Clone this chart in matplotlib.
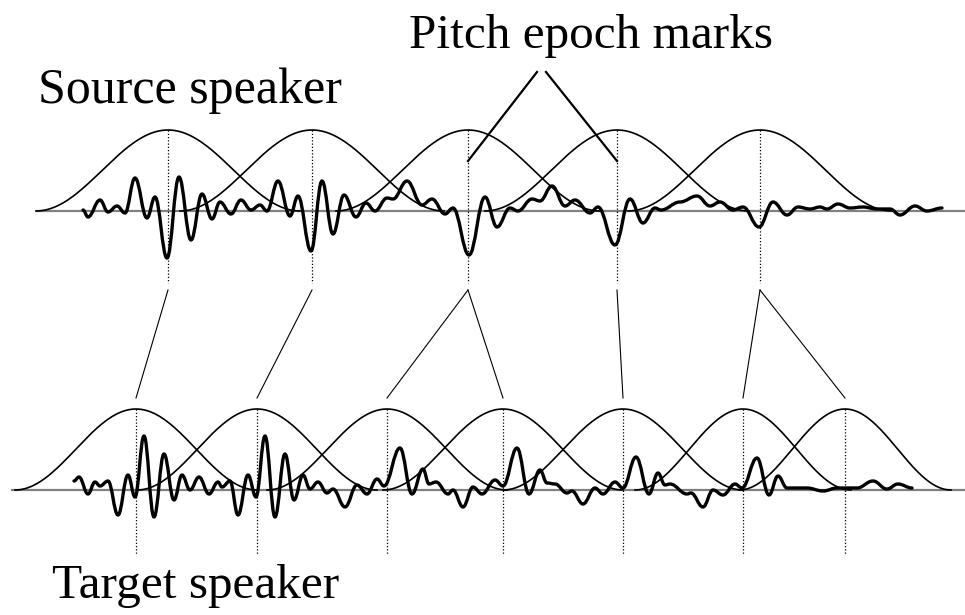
import numpy as np
import matplotlib
matplotlib.use("Agg")
import matplotlib.pyplot as plt
from matplotlib.path import Path
from matplotlib.patches import PathPatch

# source speech segment: extrema of the waveform (time, amplitude)
src_t = [83, 88, 100, 108, 117, 125, 135, 147, 155, 167, 179, 191, 202, 212, 220, 231, 241, 251,
         260, 267, 278, 290, 298, 311, 322, 333, 344, 356, 366, 375, 387, 393, 407, 422, 432, 445,
         453, 469, 485, 497, 510, 518, 532, 540, 552, 565, 575, 590, 598, 615, 630, 643, 655, 661,
         680, 697, 710, 720, 733, 743, 759, 773, 787, 798, 810, 820, 827, 838, 850, 863, 877, 890,
         900, 915, 927, 942]
src_amp = [1, -6, 11, -1, 5, -2, 33, -7, 14, -47, 34, -29, 17, -8, 9, -3, 11, 1,
           6, 0, 30, -5, 15, -40, 30, -23, 16, -6, 8, 0, 13, 12, 30, 6, 12, -3,
           3, -44, 14, -16, 3, 0, 12, 10, 25, 5, 11, -2, 4, -34, 12, -12, 3, 1,
           9, 15, 5, 9, 1, 4, -16, 9, -4, 4, 2, 4, 2, 7, 3, 4, 2, 2,
           -4, 5, 0, 3]

# synthesised target segment
tgt_t = [74, 79, 88, 95, 100, 108, 118, 128, 135, 144, 154, 164, 174, 182, 190, 199, 209, 218,
         222, 230, 238, 248, 256, 265, 275, 285, 294, 303, 310, 318, 327, 333, 345, 357, 367, 377,
         384, 400, 412, 423, 429, 436, 448, 453, 463, 473, 482, 495, 503, 517, 529, 540, 547, 555,
         567, 572, 583, 595, 603, 615, 623, 636, 649, 658, 665, 670, 687, 691, 703, 713, 723, 735,
         742, 757, 769, 778, 787, 807, 823, 837, 857, 873, 887, 898, 912]
tgt_amp = [9, 13, -4, 8, 4, 9, -25, 15, -7, 54, -27, 36, -10, 15, 0, 13, -4, 8,
           3, 9, -25, 15, -7, 54, -27, 36, -10, 15, 1, 8, -3, 1, -17, 5, -4, 11,
           4, 42, -4, 21, 6, 8, -4, 0, -17, 3, -4, 10, 4, 42, -4, 20, 7, 6,
           -3, -1, -14, 2, -4, 8, 2, 33, -4, 17, 5, 6, -4, -3, -17, 0, -5, 6,
           2, 32, -5, 14, 2, 2, -1, 2, 2, 9, 1, 6, 2]

# pitch epoch marks and analysis windows
src_marks = [168, 312, 468, 617, 760]
src_halfwidth = [132, 132, 132, 132, 132]
tgt_marks = [136, 257, 387, 503, 623, 743, 845]
tgt_halfwidth = [121, 120, 120, 120, 120, 108, 106]
win_height = 81

# which source epoch feeds which target epoch
links = [(0, 0), (1, 1), (2, 2), (2, 3), (3, 4), (4, 5), (4, 6)]

SRC_Y = 211
TGT_Y = 490
FONT = "Liberation Serif"


def wave_path(t, amp, base):
    # smooth curve through the extrema, flat tangent at every turning point
    verts = [(t[0], base - amp[0])]
    codes = [Path.MOVETO]
    for i in range(1, len(t)):
        x0, y0 = t[i - 1], base - amp[i - 1]
        x1, y1 = t[i], base - amp[i]
        d = (x1 - x0) * 0.4
        verts += [(x0 + d, y0), (x1 - d, y1), (x1, y1)]
        codes += [Path.CURVE4] * 3
    return Path(verts, codes)


def draw_track(ax, base, marks, halfwidth, t, amp, x_start, mark_bottom):
    ax.plot([x_start, 965], [base, base], color="#808080", lw=1.6, zorder=1)
    for c, hw in zip(marks, halfwidth):
        x = np.linspace(c - hw, c + hw, 300)
        y = base - win_height * 0.5 * (1 + np.cos(np.pi * (x - c) / hw))
        ax.plot(x, y, color="black", lw=1.2, zorder=2)
        ax.plot([c, c], [base - win_height, mark_bottom], color="black",
                lw=0.9, ls=(0, (1, 1.6)), zorder=2)
    ax.add_patch(PathPatch(wave_path(t, amp, base), fill=False,
                           edgecolor="black", lw=2.4, capstyle="round",
                           joinstyle="round", zorder=3))


def main():
    fig = plt.figure(figsize=(9.65, 6.15), dpi=100)
    ax = fig.add_axes([0, 0, 1, 1])
    ax.set_xlim(0, 965)
    ax.set_ylim(615, 0)
    ax.axis("off")

    draw_track(ax, SRC_Y, src_marks, src_halfwidth, src_t, src_amp, 37, 283)
    draw_track(ax, TGT_Y, tgt_marks, tgt_halfwidth, tgt_t, tgt_amp, 12, 555)

    for s, d in links:
        ax.plot([src_marks[s], tgt_marks[d]], [290, 398], color="black", lw=0.8)

    # pointers to two of the epochs
    ax.plot([537, src_marks[2]], [72, 161], color="black", lw=1.6)
    ax.plot([546, src_marks[3]], [72, 161], color="black", lw=1.6)

    ax.text(591, 48, "Pitch epoch marks", family=FONT, fontsize=35.5,
            ha="center", va="baseline")
    ax.text(190, 103, "Source speaker", family=FONT, fontsize=36,
            ha="center", va="baseline")
    ax.text(196, 598, "Target speaker", family=FONT, fontsize=35.5,
            ha="center", va="baseline")

    fig.savefig("out.png", dpi=100)


if __name__ == "__main__":
    main()
